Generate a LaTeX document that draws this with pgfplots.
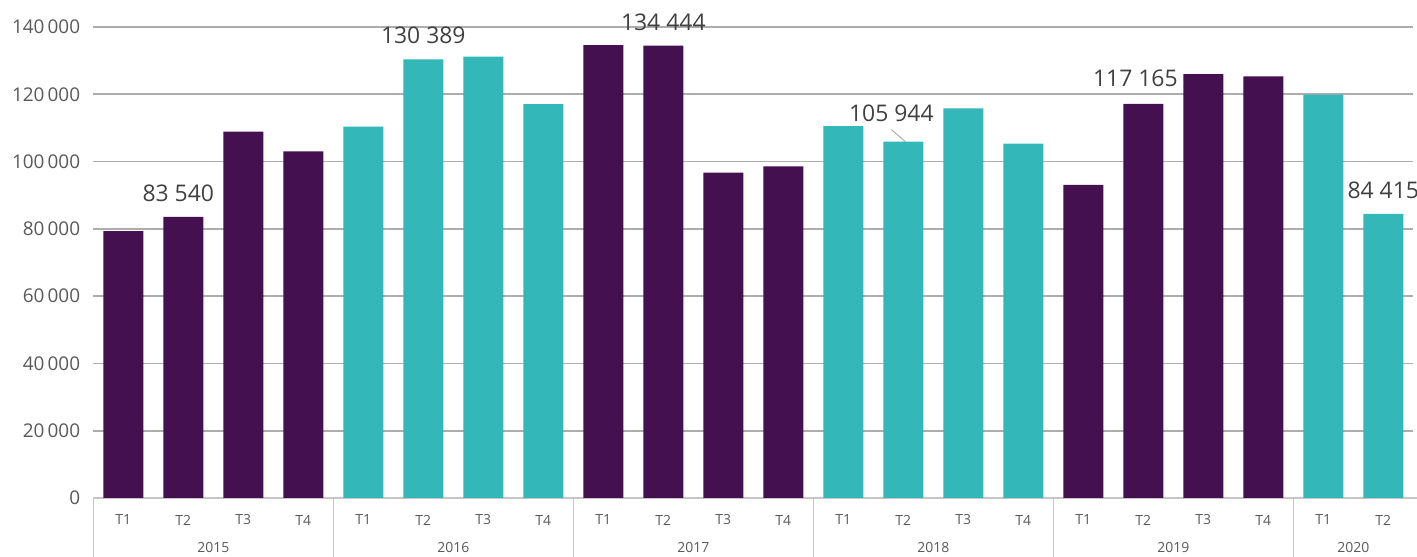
\documentclass[border=0pt]{standalone}
\usepackage{pgfplots}
\pgfplotsset{compat=1.18}
\usepackage{fontspec}
\setmainfont{Open Sans}
\definecolor{purp}{HTML}{44104F}
\definecolor{tealc}{HTML}{33B7B9}
\definecolor{gridc}{HTML}{ADADAD}
\definecolor{axc}{HTML}{C6C6C6}
\definecolor{tickc}{HTML}{595959}
\definecolor{labc}{HTML}{404040}
\begin{document}
\begin{tikzpicture}[x=1bp,y=1bp]
\useasboundingbox (-93.3,-59) rectangle (1323.7,498);
\begin{axis}[
  at={(0,0)}, anchor=south west,
  scale only axis, width=1320bp, height=471bp,
  xmin=-0.5, xmax=21.5, ymin=0, ymax=140000,
  ybar, bar width=40bp, bar shift=0pt,
  axis x line*=bottom, axis y line*=left,
  y axis line style={draw=none},
  x axis line style={draw=axc, line width=1.5bp},
  ymajorgrids, grid style={draw=gridc, line width=1.6bp},
  major tick length=0pt,
  scaled y ticks=false,
  xtick={0,...,21},
  xticklabels={T1,T2,T3,T4,T1,T2,T3,T4,T1,T2,T3,T4,T1,T2,T3,T4,T1,T2,T3,T4,T1,T2},
  xticklabel style={anchor=center, yshift=-22bp, font=\fontsize{14}{16}\selectfont, text=tickc},
  ytick={0,20000,40000,60000,80000,100000,120000,140000},
  yticklabels={0,20\,000,40\,000,60\,000,80\,000,100\,000,120\,000,140\,000},
  yticklabel style={anchor=east, inner sep=0pt, xshift=-13bp, font=\fontsize{19}{21}\selectfont, text=tickc},
  clip=false,
]
\addplot[fill=purp, draw=none] coordinates {
  (0,79300) (1,83540) (2,108900) (3,103000)
  (8,134600) (9,134444) (10,96700) (11,98600)
  (16,93100) (17,117165) (18,126000) (19,125300)
};
\addplot[fill=tealc, draw=none] coordinates {
  (4,110400) (5,130389) (6,131200) (7,117100)
  (12,110500) (13,105944) (14,115800) (15,105300)
  (20,119900) (21,84415)
};
% year separators
\foreach \s in {-0.5,3.5,7.5,11.5,15.5,19.5}{
  \edef\tmp{\noexpand\draw[draw=axc, line width=1.5bp] (axis cs:\s,0) -- ([yshift=-70bp]axis cs:\s,0);}\tmp
}
\draw[draw=axc, line width=1.5bp] (axis cs:21.5,0) -- ([xshift=5bp]axis cs:21.5,0);
% year labels
\foreach \x/\y in {1.5/2015,5.5/2016,9.5/2017,13.5/2018,17.5/2019,20.5/2020}{
  \edef\tmp{\noexpand\node[font=\noexpand\fontsize{14}{16}\noexpand\selectfont, text=tickc] at (axis cs:\x,0) [yshift=-50bp] {\y};}\tmp
}
% data labels
\tikzset{dl/.style={font=\fontsize{23}{25}\selectfont, text=labc, anchor=center, inner sep=0pt}}
\node[dl] at (axis cs:1,83540) [xshift=-5bp, yshift=24bp] {83 540};
\node[dl] at (axis cs:5,130389) [yshift=24bp] {130 389};
\node[dl] at (axis cs:9,134444) [yshift=23bp] {134 444};
\node[dl] at (axis cs:13,105944) [xshift=-12bp, yshift=28bp] {105 944};
\draw[draw=gridc, line width=1bp] ([xshift=-12bp, yshift=12bp]axis cs:13,105944) -- ([xshift=2bp]axis cs:13,105944);
\node[dl] at (axis cs:17,117165) [xshift=-8bp, yshift=25bp] {117 165};
\node[dl] at (axis cs:21,84415) [yshift=24bp] {84 415};
\end{axis}
\end{tikzpicture}
\end{document}
